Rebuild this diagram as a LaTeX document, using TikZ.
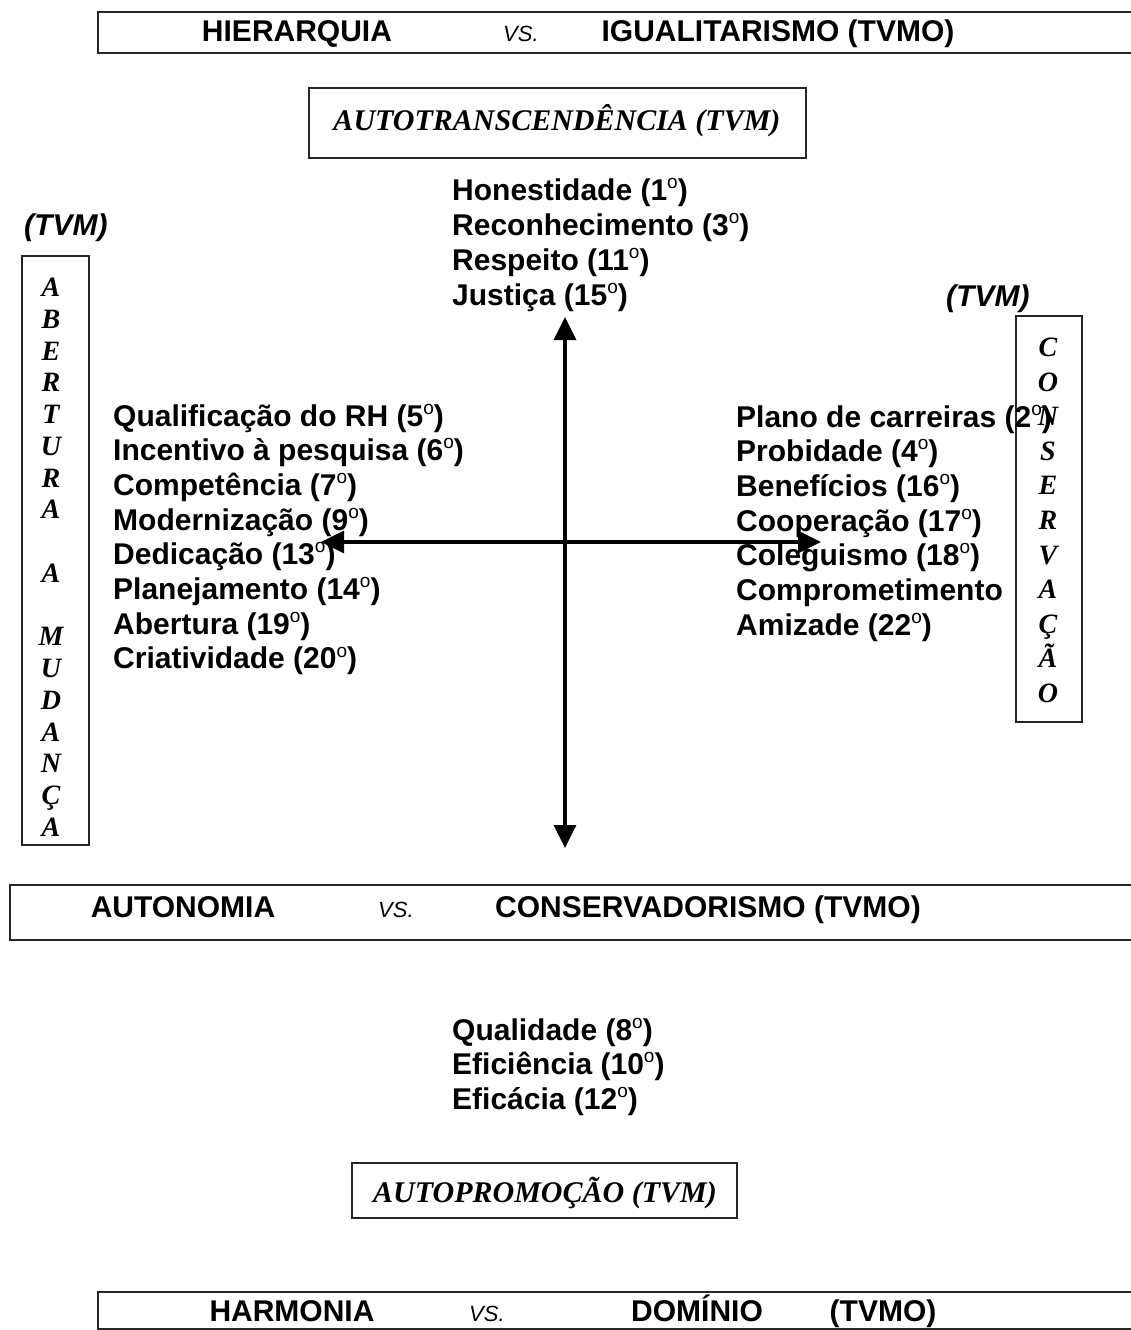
\documentclass[tikz,border=0pt]{standalone}
\usepackage{fontspec}
\setmainfont{Liberation Sans}
\newfontfamily\timesfam{Liberation Serif}
\usetikzlibrary{arrows.meta}
\newcommand\ord[1]{(#1\raisebox{0.75ex}{\fontsize{19}{19}\selectfont\mdseries o})}
\tikzset{
  x=1pt, y=-1pt,
  banner/.style={line width=2pt, draw=black!85},
  framebox/.style={line width=1.6pt, draw=black!85},
  item/.style={anchor=base west, inner sep=0pt, font=\fontsize{30}{30}\selectfont\bfseries},
  headtext/.style={anchor=base, inner sep=0pt, font=\fontsize{30}{30}\selectfont\bfseries},
  vstext/.style={anchor=base west, inner sep=0pt, font=\fontsize{22}{22}\selectfont\itshape},
  tvm/.style={anchor=base west, inner sep=0pt, font=\fontsize{30}{30}\selectfont\bfseries\itshape},
  serifhead/.style={anchor=base, inner sep=0pt, font=\fontsize{30}{30}\selectfont\timesfam\bfseries\itshape},
  letter/.style={anchor=base, inner sep=0pt, font=\fontsize{28}{28}\selectfont\timesfam\bfseries\itshape},
  axis/.style={line width=3.2pt, -{Triangle[length=23pt,width=22pt]}},
}
\begin{document}
\begin{tikzpicture}
\useasboundingbox (0,0) rectangle (1131,1330);

% ---- open banners (run off the right edge)
\draw[banner] (1140,12) -- (98,12) -- (98,53) -- (1140,53);
\node[headtext] (hier) at (297,42) {HIERARQUIA};
\node[vstext] (vs1) at (503,42) {VS.};
\node[headtext] (igual) at (778,42) {IGUALITARISMO (TVMO)};

\draw[banner] (1140,885) -- (10,885) -- (10,940) -- (1140,940);
\node[headtext] (auton) at (183,917) {AUTONOMIA};
\node[vstext] (vs2) at (378,917) {VS.};
\node[headtext] (conserv) at (708,917) {CONSERVADORISMO (TVMO)};

\draw[banner] (1140,1292) -- (98,1292) -- (98,1340);
\draw[banner] (98,1329) -- (1140,1329);
\node[headtext] (harm) at (292,1321) {HARMONIA};
\node[vstext] (vs3) at (469,1321) {VS.};
\node[headtext] (dom) at (697,1321) {DOMÍNIO};
\node[headtext] (tvmo3) at (883,1321) {(TVMO)};

% ---- boxed dimension titles
\draw[framebox] (309,88) rectangle (806,158);
\node[serifhead] (autotr) at (557,130) {AUTOTRANSCENDÊNCIA (TVM)};
\draw[framebox] (352,1163) rectangle (737,1218);
\node[serifhead] (autopr) at (545,1202) {AUTOPROMOÇÃO (TVM)};

% ---- vertical titles
\node[tvm] (tvmL) at (24,235) {(TVM)};
\draw[framebox] (22,256) rectangle (89,845);
\foreach \c [count=\i from 0] in {A,B,E,R,T,U,R,A,{},A,{},M,U,D,A,N,Ç,A}
  \node[letter] (abL\i) at (51,{287+\i*31.76+9.5}) {\c};

\node[tvm] (tvmR) at (946,306) {(TVM)};
\draw[framebox] (1016,316) rectangle (1082,722);
\foreach \c [count=\i from 0] in {C,O,N,S,E,R,V,A,Ç,Ã,O}
  \node[letter] (csR\i) at (1048,{347+\i*34.6+9.5}) {\c};

% ---- value lists
\foreach \t [count=\i from 0] in {Honestidade \ord{1},Reconhecimento \ord{3},Respeito \ord{11},Justiça \ord{15}}
  \node[item] (top\i) at (452,{189+\i*35+11}) {\t};

\foreach \t [count=\i from 0] in {Qualificação do RH \ord{5},Incentivo à pesquisa \ord{6},Competência \ord{7},Modernização \ord{9},Dedicação \ord{13},Planejamento \ord{14},Abertura \ord{19},Criatividade \ord{20}}
  \node[item] (left\i) at (113,{415+\i*34.7+11}) {\t};

\foreach \t [count=\i from 0] in {Plano de carreiras \ord{2},Probidade \ord{4},Benefícios \ord{16},Cooperação \ord{17},Coleguismo \ord{18},Comprometimento,Amizade \ord{22}}
  \node[item] (right\i) at (736,{416+\i*34.7+11}) {\t};

\foreach \t [count=\i from 0] in {Qualidade \ord{8},Eficiência \ord{10},Eficácia \ord{12}}
  \node[item] (bot\i) at (452,{1029+\i*34.7+11}) {\t};

% ---- axes
\coordinate (centre) at (565,542);
\coordinate (north) at (565,317);
\coordinate (south) at (565,848);
\coordinate (west) at (321,542);
\coordinate (east) at (821,542);
\draw[axis] (centre) -- (north);
\draw[axis] (centre) -- (south);
\draw[axis] (centre) -- (west);
\draw[axis] (centre) -- (east);
\end{tikzpicture}
\end{document}
